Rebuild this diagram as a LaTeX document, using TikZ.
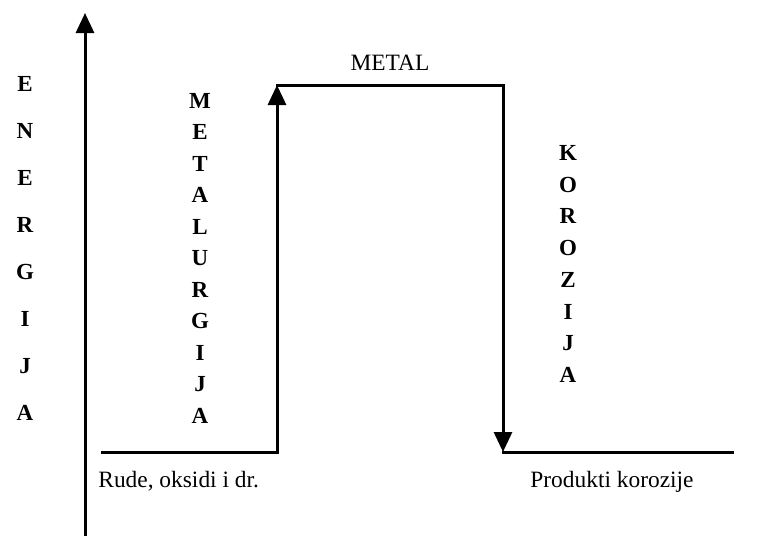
\documentclass[tikz,border=0pt]{standalone}
\usepackage{fontspec}
\setmainfont{Liberation Serif}[BoldFont = {Liberation Serif Bold}]
\usetikzlibrary{arrows.meta,positioning}

\begin{document}
\begin{tikzpicture}[x = .5pt, y = -.5pt,
    level/.style = {line width = 1.5pt, line cap = rect},
    arr/.style = {level, -{Triangle[length = 10pt, width = 9pt]}},
    word/.style = {inner sep = 0pt, font = \fontsize{11.7}{13}\selectfont},
    column/.style = {inner sep = 0pt, align = center, font = \fontsize{11.5}{#1}\selectfont\bfseries}]
  \useasboundingbox (0,0) rectangle (762,536);
  % energy axis
  \coordinate (axB) at (85,536);
  \coordinate (axT) at (85,13);
  \draw[arr] (axB) -- (axT);
  % levels
  \coordinate (oreL) at (102,452);
  \coordinate (oreR) at (277,452);
  \coordinate (metL) at (277,85);
  \coordinate (metR) at (503,85);
  \coordinate (prodL) at (503,452);
  \coordinate (prodR) at (732,452);
  \draw[level] (oreL) -- (oreR);
  \draw[arr] (oreR) -- (metL);
  \draw[level] (metL) -- (metR);
  \draw[arr] (metR) -- (prodL);
  \draw[level] (prodL) -- (prodR);
  % labels
  \node[word, anchor = base] (metal) at (390,70) {METAL};
  \node[word, anchor = base west] (ore) at (98,487) {Rude, oksidi i dr.};
  \node[word, anchor = base west] (prod) at (530,487) {Produkti korozije};
  \node[column = 23.5pt] (energy) at (25,248) {E\\N\\E\\R\\G\\I\\J\\A};
  \node[column = 15.75pt] (metallurgy) at (200,258) {M\\E\\T\\A\\L\\U\\R\\G\\I\\J\\A};
  \node[column = 15.85pt] (corrosion) at (568,264) {K\\O\\R\\O\\Z\\I\\J\\A};
\end{tikzpicture}
\end{document}
